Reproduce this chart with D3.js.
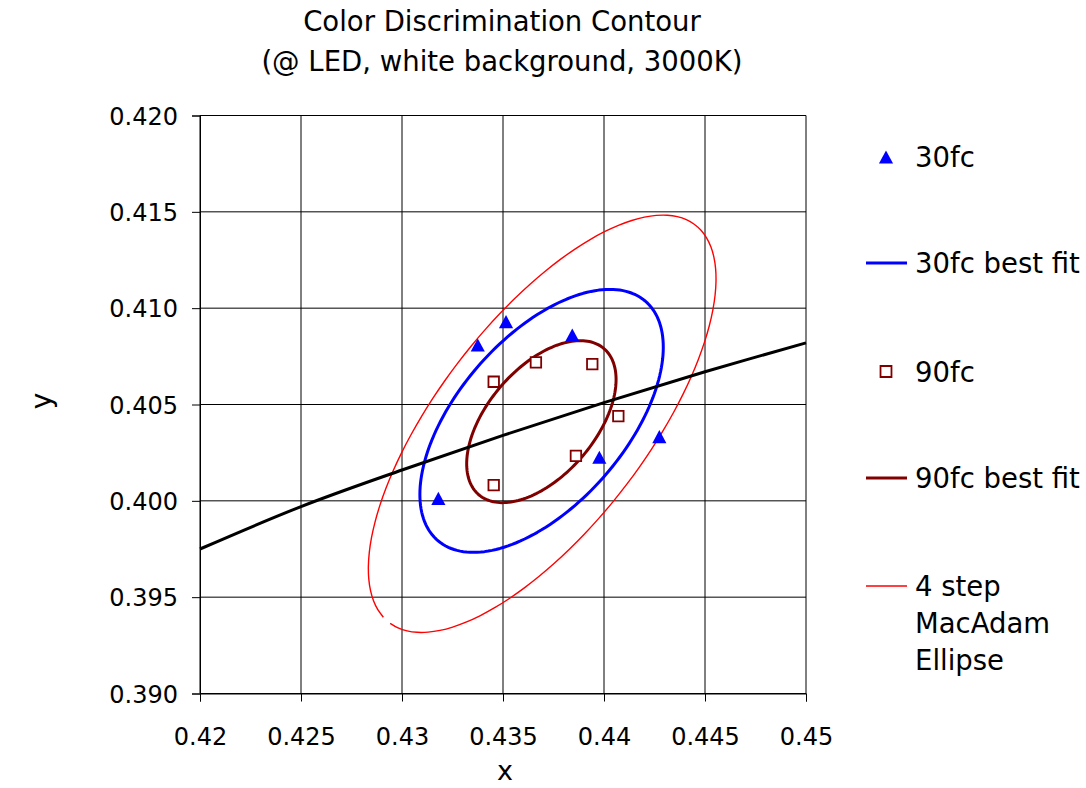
<!DOCTYPE html>
<html>
<head>
<meta charset="utf-8">
<script src="https://cdn.jsdelivr.net/npm/d3@7"></script>
<style>
  html, body { margin: 0; padding: 0; background: #fff; }
  svg { display: block; }
  text { font-family: "DejaVu Sans", Verdana, sans-serif; fill: #000; }
</style>
</head>
<body>
<svg id="chart" width="1086" height="788"></svg>
<script>
// ---- data -------------------------------------------------------------
const xTickValues = [0.420, 0.425, 0.430, 0.435, 0.440, 0.445, 0.450];
const xTickLabels = ["0.42", "0.425", "0.43", "0.435", "0.44", "0.445", "0.45"];
const yTickValues = [0.390, 0.395, 0.400, 0.405, 0.410, 0.415, 0.420];
const yTickLabels = ["0.390", "0.395", "0.400", "0.405", "0.410", "0.415", "0.420"];

// blackbody locus through the region
const locusX = [0.420, 0.425, 0.430, 0.435, 0.440, 0.445, 0.450];
const locusY = [0.3975, 0.3997, 0.4016, 0.4034, 0.4051, 0.4067, 0.4082];

// observer matches at 30 fc
const fc30X = [0.43375, 0.43515, 0.43843, 0.43977, 0.44274, 0.43180];
const fc30Y = [0.40809, 0.40930, 0.40861, 0.40226, 0.40333, 0.40013];

// observer matches at 90 fc
const fc90X = [0.43454, 0.43663, 0.43942, 0.44071, 0.43861, 0.43454];
const fc90Y = [0.40618, 0.40719, 0.40710, 0.40440, 0.40233, 0.40082];

// ellipses: centre, half-extent in x and y, and x/y correlation
// x = cx + rx*cos(t), y = cy + ry*cos(t - acos(rho))
const fit30 = { cx: 0.43691, cy: 0.40415, rx: 0.006025, ry: 0.006825, rho: 0.56 };
const fit90 = { cx: 0.43690, cy: 0.40411, rx: 0.003698, ry: 0.004204, rho: 0.52 };
const macAdam4 = { cx: 0.43694, cy: 0.40400, rx: 0.008606, ry: 0.010830, rho: 0.695 };

const legendLabels = ["30fc", "30fc best fit", "90fc", "90fc best fit", ["4 step", "MacAdam", "Ellipse"]];

// ---- layout -----------------------------------------------------------
const svg = d3.select("#chart");
const plot = { left: 200, right: 806, top: 115.5, bottom: 693.5 };

const x = d3.scaleLinear().domain([0.42, 0.45]).range([plot.left, plot.right]);
const y = d3.scaleLinear().domain([0.39, 0.42]).range([plot.bottom, plot.top]);

const BLUE = "#0000ff", BROWN = "#800000", RED = "#ff0000";

// title
const title = svg.append("text")
  .attr("x", 502).attr("text-anchor", "middle")
  .style("font-size", "27.5px");
title.append("tspan").attr("x", 502).attr("y", 30.5).text("Color Discrimination Contour");
title.append("tspan").attr("x", 502).attr("y", 71).text("(@ LED, white background, 3000K)");

// gridlines
const grid = svg.append("g").attr("stroke", "#000").attr("stroke-width", 1);
grid.selectAll("line.v").data(xTickValues).join("line")
  .attr("class", "v")
  .attr("x1", d => x(d)).attr("x2", d => x(d))
  .attr("y1", plot.top).attr("y2", plot.bottom);
grid.selectAll("line.h").data(yTickValues).join("line")
  .attr("class", "h")
  .attr("x1", plot.left).attr("x2", plot.right)
  .attr("y1", d => y(d)).attr("y2", d => y(d));

// axes
const xAxis = d3.axisBottom(x).tickValues(xTickValues)
  .tickFormat((d, i) => xTickLabels[i]).tickSize(8).tickPadding(26);
const yAxis = d3.axisLeft(y).tickValues(yTickValues)
  .tickFormat((d, i) => yTickLabels[i]).tickSize(8).tickPadding(14);

const gx = svg.append("g").attr("transform", `translate(0,${plot.bottom})`).call(xAxis);
const gy = svg.append("g").attr("transform", `translate(${plot.left},0)`).call(yAxis);
[gx, gy].forEach(g => {
  g.select(".domain").attr("stroke", "#000").attr("stroke-width", 1);
  g.selectAll(".tick line").attr("stroke", "#000");
  g.selectAll(".tick text")
    .style("font-family", "\"DejaVu Sans\", Verdana, sans-serif")
    .style("font-size", "24px").attr("fill", "#000");
});
gy.selectAll(".tick text").attr("dy", "0.36em");

// axis titles
svg.append("text").attr("x", 505).attr("y", 780)
  .attr("text-anchor", "middle").style("font-size", "27px").text("x");
svg.append("text")
  .attr("transform", "translate(51,401) rotate(-90)")
  .attr("text-anchor", "middle").style("font-size", "28px").text("y");

// ---- curves -----------------------------------------------------------
function ellipsePoints(e, startDeg, sweepDeg, stepDeg) {
  const phi = Math.acos(e.rho);
  const pts = [];
  for (let a = startDeg; a <= startDeg + sweepDeg + 1e-9; a += stepDeg) {
    const t = a * Math.PI / 180;
    pts.push([e.cx + e.rx * Math.cos(t), e.cy + e.ry * Math.cos(t - phi)]);
  }
  return pts;
}

const line = d3.line().x(d => x(d[0])).y(d => y(d[1]));
const smooth = d3.line().x(d => x(d[0])).y(d => y(d[1])).curve(d3.curveCatmullRom);

const curves = svg.append("g").attr("fill", "none")
  .attr("stroke-linejoin", "round").attr("stroke-linecap", "butt");

// 4-step MacAdam ellipse, sampled every 5 degrees and left open for one step
curves.append("path")
  .attr("d", smooth(ellipsePoints(macAdam4, -151, 355, 5)))
  .attr("stroke", RED).attr("stroke-width", 1.4);

curves.append("path")
  .attr("d", line(ellipsePoints(fit30, 0, 360, 2)) + "Z")
  .attr("stroke", BLUE).attr("stroke-width", 3);

curves.append("path")
  .attr("d", line(ellipsePoints(fit90, 0, 360, 2)) + "Z")
  .attr("stroke", BROWN).attr("stroke-width", 3);

curves.append("path")
  .attr("d", smooth(locusX.map((v, i) => [v, locusY[i]])))
  .attr("stroke", "#000").attr("stroke-width", 3);

// ---- markers ----------------------------------------------------------
// triangle centred on its bounding box
const triangleMark = {
  draw(ctx, size) {
    const w = Math.sqrt(size) * 1.45, h = w * 0.93;
    ctx.moveTo(0, -h / 2);
    ctx.lineTo(w / 2, h / 2);
    ctx.lineTo(-w / 2, h / 2);
    ctx.closePath();
  }
};
const tri = d3.symbol().type(triangleMark).size(95);
const sq = d3.symbol().type(d3.symbolSquare).size(110);

svg.append("g").selectAll("path").data(fc30X.map((v, i) => [v, fc30Y[i]])).join("path")
  .attr("d", tri)
  .attr("transform", d => `translate(${x(d[0])},${y(d[1])})`)
  .attr("fill", BLUE);

svg.append("g").selectAll("path").data(fc90X.map((v, i) => [v, fc90Y[i]])).join("path")
  .attr("d", sq)
  .attr("transform", d => `translate(${x(d[0])},${y(d[1])})`)
  .attr("fill", "#fff").attr("stroke", BROWN).attr("stroke-width", 1.8);

// ---- legend -----------------------------------------------------------
const legendRows = [157, 263, 371.5, 478, 586];
const legend = svg.append("g");
const lx0 = 866, lx1 = 907, lcx = 886, ltx = 915;

legend.append("path").attr("d", tri)
  .attr("transform", `translate(${lcx},${legendRows[0]})`).attr("fill", BLUE);
legend.append("line").attr("x1", lx0).attr("x2", lx1)
  .attr("y1", legendRows[1]).attr("y2", legendRows[1])
  .attr("stroke", BLUE).attr("stroke-width", 3);
legend.append("path").attr("d", d3.symbol().type(d3.symbolSquare).size(120))
  .attr("transform", `translate(${lcx},${legendRows[2]})`)
  .attr("fill", "#fff").attr("stroke", BROWN).attr("stroke-width", 1.8);
legend.append("line").attr("x1", lx0).attr("x2", lx1)
  .attr("y1", legendRows[3]).attr("y2", legendRows[3])
  .attr("stroke", BROWN).attr("stroke-width", 3);
legend.append("line").attr("x1", lx0).attr("x2", lx1)
  .attr("y1", legendRows[4]).attr("y2", legendRows[4])
  .attr("stroke", RED).attr("stroke-width", 1.6);

legendLabels.forEach((lab, i) => {
  const t = legend.append("text").style("font-size", "27.5px")
    .attr("x", ltx).attr("y", legendRows[i] + 10);
  if (Array.isArray(lab)) {
    lab.forEach((s, k) => t.append("tspan").attr("x", ltx)
      .attr("y", legendRows[i] + 10 + k * 37).text(s));
  } else {
    t.text(lab);
  }
});
</script>
</body>
</html>
